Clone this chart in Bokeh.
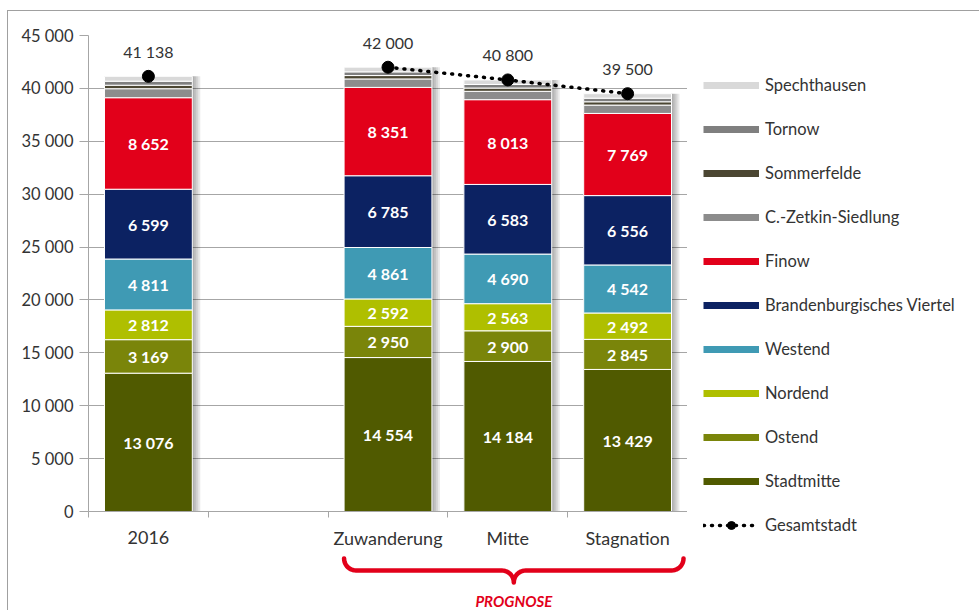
import numpy as np
from bokeh.plotting import figure
from bokeh.models import Range1d, FixedTicker, Legend, LegendItem, ColumnDataSource, Spacer
from bokeh.layouts import column, row
from bokeh.core.properties import value
from bokeh.embed import file_html
from bokeh.resources import INLINE

# ---------------- data ----------------
categories = ["2016", "", "Zuwanderung", "Mitte", "Stagnation"]
bar_index = [0, 2, 3, 4]          # category slots that hold a bar
series = ["Stadtmitte", "Ostend", "Nordend", "Westend", "Brandenburgisches Viertel",
          "Finow", "C.-Zetkin-Siedlung", "Sommerfelde", "Tornow", "Spechthausen"]
stadtmitte = [13076, 14554, 14184, 13429]
ostend = [3169, 2950, 2900, 2845]
nordend = [2812, 2592, 2563, 2492]
westend = [4811, 4861, 4690, 4542]
brandenburg = [6599, 6785, 6583, 6556]
finow = [8652, 8351, 8013, 7769]
zetkin = [850, 800, 790, 790]
sommerfelde = [330, 320, 310, 310]
tornow = [380, 350, 340, 340]
spechthausen = [459, 437, 427, 427]
gesamt = [41138, 42000, 40800, 39500]
prognose_index = [2, 3, 4]
y_ticks = [0, 5000, 10000, 15000, 20000, 25000, 30000, 35000, 40000, 45000]
y_labels = ["0", "5 000", "10 000", "15 000", "20 000", "25 000", "30 000", "35 000", "40 000", "45 000"]

colors = ["#505a00", "#7a850a", "#afbf00", "#3f9ab4", "#0c2262",
          "#e2001a", "#8c8c8c", "#4b4632", "#7f7f7f", "#d9d9d9"]
values = [stadtmitte, ostend, nordend, westend, brandenburg, finow,
          zetkin, sommerfelde, tornow, spechthausen]
labelled = 6  # first six series carry value labels

FONT = value("Lato")
TXT = "#333333"
GRID = "#a6a6a6"
RED = "#e2001a"
BAR_W = 0.733
PX = 1.0 / 120.0  # one screen pixel in x data units
BOTTOM = 10       # space below the main frame

def fmt(v):
    return f"{v:,}".replace(",", " ")

ncat = len(categories)
centers = [i + 0.5 for i in range(ncat)]
bounds = list(range(ncat + 1))

# ---------------- main figure ----------------
p = figure(frame_width=599, frame_height=476, x_range=Range1d(0, ncat), y_range=Range1d(0, 45000),
           output_backend="svg", toolbar_location=None,
           min_border_left=80, min_border_right=0, min_border_top=24, min_border_bottom=BOTTOM)
p.outline_line_color = None

xs = [i + 0.5 for i in bar_index]

# shadows
for k in [2, 4, 6, 8]:
    p.vbar(x=[x + k * PX / 2 for x in xs], width=BAR_W + k * PX, top=gesamt, bottom=0,
           fill_color="black", fill_alpha=0.085, line_color=None)

data = {"x": xs}
for name, vals in zip(series, values):
    data[name] = vals
src = ColumnDataSource(data)
p.vbar_stack(series, x="x", width=BAR_W, color=colors, source=src,
             line_color="white", line_width=1)

# segment labels
arr = np.array(values, dtype=float)
cum = np.cumsum(arr, axis=0)
lx, ly, lt = [], [], []
for s in range(labelled):
    for j, x in enumerate(xs):
        lx.append(x)
        ly.append(cum[s, j] - arr[s, j] / 2)
        lt.append(fmt(values[s][j]))
p.text(x=lx, y=ly, text=lt, text_align="center", text_baseline="middle",
       text_color="white", text_font=FONT, text_font_style="bold", text_font_size="16px")

# Gesamtstadt line + markers
line_kw = dict(line_color="black", line_width=3.5, line_dash="1 7", line_cap="round")
p.line(x=[i + 0.5 for i in prognose_index],
       y=[gesamt[bar_index.index(i)] for i in prognose_index], **line_kw)
p.scatter(x=xs, y=gesamt, size=12, fill_color="black", line_color="black")
p.text(x=xs, y=gesamt, text=[fmt(v) for v in gesamt], text_align="center",
       text_baseline="middle", y_offset=-25, text_color=TXT, text_font=FONT,
       text_font_size="16px")

# y axis
p.yaxis.ticker = FixedTicker(ticks=y_ticks)
p.yaxis.major_label_overrides = {t: l for t, l in zip(y_ticks, y_labels)}
p.yaxis.axis_line_color = GRID
p.yaxis.major_tick_line_color = GRID
p.yaxis.major_tick_out = 9
p.yaxis.major_tick_in = 0
p.yaxis.minor_tick_line_color = None
p.yaxis.major_label_standoff = 6
p.yaxis.major_label_text_font = "Lato"
p.yaxis.major_label_text_font_size = "16.5px"
p.yaxis.major_label_text_color = TXT
p.ygrid.grid_line_color = GRID

# x axis: line and boundary ticks only (labels drawn below)
p.xaxis.ticker = FixedTicker(ticks=[], minor_ticks=bounds)
p.xaxis.axis_line_color = GRID
p.xaxis.major_tick_line_color = None
p.xaxis.major_tick_out = 0
p.xaxis.major_tick_in = 0
p.xaxis.minor_tick_line_color = GRID
p.xaxis.minor_tick_out = 6
p.xaxis.minor_tick_in = 0
p.xaxis.major_label_standoff = 0
p.xaxis.major_label_text_font_size = "0px"
p.xgrid.visible = False

# ---------------- category labels + brace figure ----------------
H2 = 610 - 11 - 24 - 476 - BOTTOM
p2 = figure(frame_width=599, frame_height=H2, x_range=p.x_range, y_range=Range1d(H2, 0),
            output_backend="svg", toolbar_location=None,
            x_axis_type=None, y_axis_type=None,
            min_border_left=80, min_border_right=0, min_border_top=0, min_border_bottom=0)
p2.outline_line_color = None
p2.grid.visible = False

o = BOTTOM  # p2 y = distance below the x axis minus BOTTOM
p2.text(x=centers, y=[26 - o] * ncat, text=categories, text_align="center",
        text_baseline="middle", text_color=TXT, text_font=FONT, text_font_size="18px")

first = prognose_index[0] + 0.5 - BAR_W / 2
last = ncat - 4 * PX
mid = (first + last) / 2
r = 12.0
y_end, y_tip = 47.0 - o, 71.0 - o   # horizontal part at y_end + r

def arc(cx_px, cy, t0, t1, n=12):
    t = np.linspace(t0, t1, n)
    return list(cx_px + r * np.cos(t)), list(cy + r * np.sin(t))

xL, xM, xR = first / PX, mid / PX, last / PX
bx, by = [], []
for (cx, cy, t0, t1) in [(xL + r, y_end, np.pi, np.pi / 2),
                         (xM - r, y_tip, -np.pi / 2, 0),
                         (xM + r, y_tip, np.pi, 1.5 * np.pi),
                         (xR - r, y_end, np.pi / 2, 0)]:
    ax, ay = arc(cx, cy, t0, t1)
    bx += ax
    by += ay
p2.line(x=[v * PX for v in bx], y=by, line_color=RED, line_width=4.5,
        line_join="round", line_cap="round")
p2.text(x=[mid], y=[89 - o], text=["PROGNOSE"], text_align="center", text_baseline="middle",
        text_color=RED, text_font=FONT, text_font_style="bold italic",
        text_font_size="15px")

# ---------------- legend figure ----------------
H3 = 24 + 476 + BOTTOM + H2
p3 = figure(width=292, height=H3, x_range=Range1d(0, 1), y_range=Range1d(0, 1),
            output_backend="svg", toolbar_location=None,
            x_axis_type=None, y_axis_type=None,
            min_border_left=16, min_border_right=0, min_border_top=64, min_border_bottom=0)
p3.outline_line_color = None
p3.grid.visible = False

items = []
for name, col in reversed(list(zip(series, colors))):
    r_ = p3.line(x=[0, 1], y=[-5, -5], line_color=col, line_width=7, line_cap="butt")
    items.append(LegendItem(label=name, renderers=[r_]))
gl = p3.line(x=[0, 1], y=[-5, -5], **line_kw)
gm = p3.scatter(x=[0.5], y=[-5], size=12, fill_color="black", line_color="black")
items.append(LegendItem(label="Gesamtstadt", renderers=[gl, gm]))
legend = Legend(items=items, location="top_left", orientation="vertical",
                glyph_width=56, glyph_height=20, label_height=20, spacing=24,
                padding=0, margin=0, label_standoff=6,
                label_text_font="Lato", label_text_font_size="16.5px",
                label_text_color=TXT, background_fill_alpha=0,
                border_line_color=None)
p3.add_layout(legend)

boxed = row(column(p, p2, spacing=0), p3, spacing=0,
            styles={"border-left": "1px solid #a0a0a0", "border-top": "1px solid #a0a0a0"})
layout = column(Spacer(height=10), row(Spacer(width=7), boxed, spacing=0), spacing=0)

open("out.html", "w").write(file_html(layout, INLINE))
